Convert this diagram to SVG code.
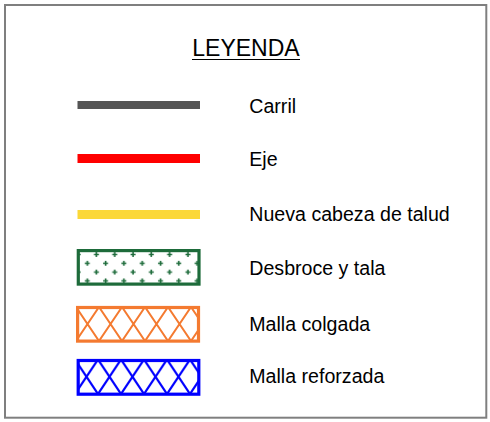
<svg xmlns="http://www.w3.org/2000/svg" width="490" height="422" viewBox="0 0 490 422">
<style>
text{font-family:"Liberation Sans",Arial,sans-serif;fill:#000}
.lbl{font-size:19.6px}
.title{font-size:23px}
</style>
<defs>
<pattern id="plus" patternUnits="userSpaceOnUse" x="82.8" y="258.9" width="18.3" height="17.6">
<path d="M2 4.4h5M4.5 1.9v5M11.15 13.2h5M13.65 10.7v5" stroke="#1d6b3a" stroke-width="1.6" fill="none"/>
</pattern>
<pattern id="latO" patternUnits="userSpaceOnUse" x="76" y="307" width="23" height="34">
<path d="M0 0L23 34M23 0L0 34" stroke="#f47a30" stroke-width="2" fill="none"/>
</pattern>
<pattern id="latB" patternUnits="userSpaceOnUse" x="75" y="359.5" width="23" height="34.5">
<path d="M0 0L23 34.5M23 0L0 34.5" stroke="#0000ff" stroke-width="2.2" fill="none"/>
</pattern>
</defs>
<rect x="5" y="5" width="481.3" height="412.7" fill="#fff" stroke="#7f7f7f" stroke-width="2"/>
<g id="title">
<text class="title" x="192.3" y="56">LEYENDA</text>
<line x1="192" y1="59.5" x2="300" y2="59.5" stroke="#000" stroke-width="1"/>
</g>
<g id="carril">
<line x1="77.5" y1="105" x2="200" y2="105" stroke="#555555" stroke-width="8"/>
<text class="lbl" x="249.3" y="112.7">Carril</text>
</g>
<g id="eje">
<line x1="77.5" y1="158.5" x2="200" y2="158.5" stroke="#ff0000" stroke-width="9"/>
<text class="lbl" x="249.3" y="166">Eje</text>
</g>
<g id="cabeza">
<line x1="77.5" y1="214.5" x2="200" y2="214.5" stroke="#fbd838" stroke-width="9"/>
<text class="lbl" x="249.3" y="220.7">Nueva cabeza de talud</text>
</g>
<g id="desbroce">
<rect x="78.3" y="250.6" width="120.7" height="33.5" fill="url(#plus)" stroke="#1d6b3a" stroke-width="3.2"/>
<text class="lbl" x="249.3" y="275">Desbroce y tala</text>
</g>
<g id="colgada">
<rect x="77.6" y="307.5" width="120.9" height="33.6" fill="url(#latO)" stroke="#f47a30" stroke-width="3.2"/>
<text class="lbl" x="249.3" y="331">Malla colgada</text>
</g>
<g id="reforzada">
<rect x="78.2" y="360.5" width="120.6" height="33.7" fill="url(#latB)" stroke="#0000ff" stroke-width="3.2"/>
<text class="lbl" x="249.3" y="383.3">Malla reforzada</text>
</g>
<g id="connectors"></g>
</svg>
